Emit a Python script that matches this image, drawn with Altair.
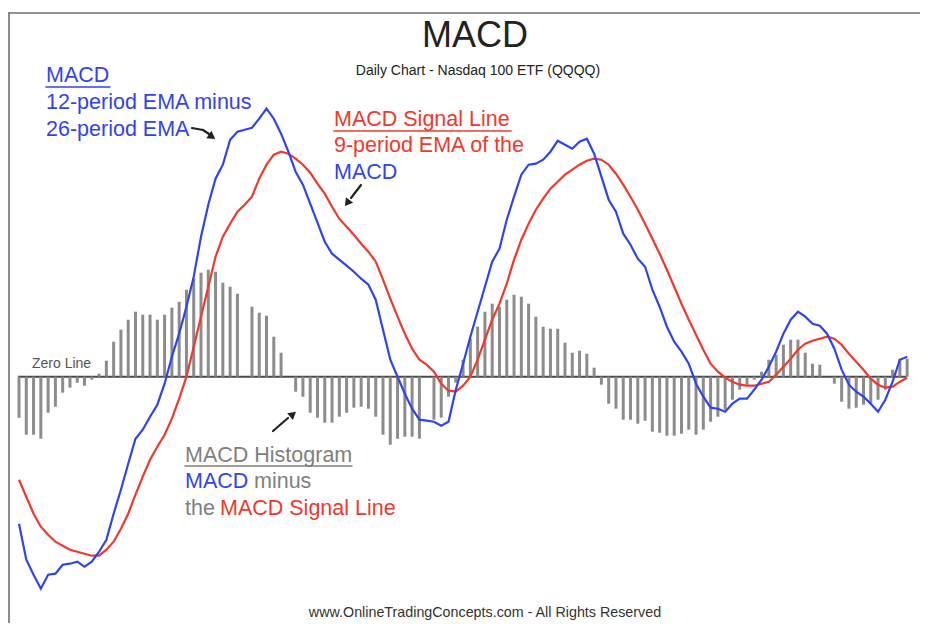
import altair as alt
import pandas as pd

# ---- data (units: MACD points) ----
macd = [-1.47, -1.83, -1.98, -2.12, -1.98, -1.97, -1.88, -1.87, -1.85, -1.90,
        -1.85, -1.75, -1.63, -1.37, -1.13, -0.87, -0.62, -0.53, -0.40, -0.28,
        -0.07, 0.20, 0.43, 0.70, 1.00, 1.40, 1.72, 1.98, 2.12, 2.37,
        2.45, 2.47, 2.49, 2.58, 2.68, 2.58, 2.43, 2.25, 2.05, 1.92,
        1.73, 1.54, 1.35, 1.23, 1.17, 1.11, 1.05, 0.98, 0.92, 0.77,
        0.47, 0.17, 0.00, -0.17, -0.32, -0.43, -0.44, -0.45, -0.49, -0.45,
        -0.13, 0.13, 0.40, 0.65, 0.90, 1.15, 1.28, 1.57, 1.80, 2.02,
        2.12, 2.13, 2.17, 2.25, 2.36, 2.32, 2.28, 2.35, 2.38, 2.23,
        2.00, 1.77, 1.65, 1.43, 1.32, 1.18, 1.10, 0.87, 0.70, 0.50,
        0.35, 0.25, 0.13, -0.07, -0.20, -0.31, -0.32, -0.35, -0.27, -0.22,
        -0.22, -0.13, -0.03, 0.10, 0.25, 0.43, 0.57, 0.65, 0.60, 0.53,
        0.51, 0.43, 0.28, 0.07, -0.08, -0.15, -0.20, -0.27, -0.35, -0.23,
        -0.05, 0.17, 0.20]

signal = [-1.03, -1.20, -1.37, -1.50, -1.58, -1.65, -1.69, -1.73, -1.75, -1.77,
          -1.79, -1.79, -1.73, -1.65, -1.52, -1.37, -1.18, -1.00, -0.83, -0.70,
          -0.58, -0.42, -0.22, 0.00, 0.30, 0.60, 0.90, 1.20, 1.40, 1.53,
          1.65, 1.72, 1.80, 1.98, 2.12, 2.22, 2.25, 2.23, 2.18, 2.12,
          2.04, 1.93, 1.83, 1.70, 1.58, 1.50, 1.42, 1.33, 1.25, 1.15,
          0.97, 0.78, 0.60, 0.43, 0.28, 0.17, 0.12, 0.05, -0.07, -0.14,
          -0.15, -0.09, 0.00, 0.17, 0.37, 0.57, 0.73, 0.93, 1.17, 1.37,
          1.53, 1.67, 1.78, 1.88, 1.95, 2.02, 2.07, 2.12, 2.16, 2.18,
          2.17, 2.12, 2.03, 1.92, 1.80, 1.67, 1.53, 1.38, 1.23, 1.07,
          0.90, 0.73, 0.57, 0.42, 0.27, 0.13, 0.05, -0.01, -0.05, -0.08,
          -0.09, -0.09, -0.07, -0.05, 0.02, 0.10, 0.18, 0.27, 0.33, 0.36,
          0.38, 0.40, 0.38, 0.32, 0.23, 0.15, 0.07, -0.02, -0.08, -0.11,
          -0.10, -0.05, -0.01]

histogram = [-0.41, -0.58, -0.58, -0.62, -0.36, -0.30, -0.16, -0.11, -0.06, -0.09,
             -0.03, 0.03, 0.16, 0.35, 0.47, 0.57, 0.65, 0.62, 0.62, 0.57,
             0.62, 0.69, 0.75, 0.87, 0.98, 1.04, 1.07, 1.05, 0.94, 0.90,
             0.83, 0.00, 0.70, 0.64, 0.61, 0.40, 0.24, 0.00, -0.15, -0.20,
             -0.36, -0.41, -0.46, -0.46, -0.40, -0.36, -0.31, -0.30, -0.32, -0.40,
             -0.58, -0.68, -0.62, -0.60, -0.60, -0.62, 0.00, -0.43, -0.41, -0.20,
             -0.06, 0.17, 0.38, 0.50, 0.65, 0.73, 0.70, 0.77, 0.82, 0.80,
             0.73, 0.60, 0.50, 0.48, 0.48, 0.34, 0.24, 0.26, 0.23, 0.09,
             -0.08, -0.27, -0.32, -0.43, -0.43, -0.47, -0.44, -0.55, -0.56, -0.59,
             -0.59, -0.57, -0.53, -0.58, -0.53, -0.45, -0.40, -0.33, -0.23, -0.13,
             -0.08, -0.03, 0.05, 0.17, 0.22, 0.32, 0.37, 0.37, 0.24, 0.13,
             0.12, 0.00, -0.07, -0.25, -0.32, -0.31, -0.28, -0.27, -0.23, -0.13,
             0.07, 0.18, 0.18]

day = list(range(len(macd)))

df = pd.DataFrame({"day": day, "macd": macd, "signal": signal, "hist": histogram})
df["zero"] = 0.0
zl = pd.DataFrame({"x0": [-0.14], "x1": [121.9], "y": [0.0]})

FONT = "Liberation Sans"
BLUE = "#2f44f0"
RED = "#f2382c"
GRAY_TXT = "#808080"
ARROW = "#222222"

W, H = 912, 615
xs = alt.Scale(domain=[-1.511, 123.764], nice=False, zero=False)
ys = alt.Scale(domain=[-2.463, 3.687], nice=False, zero=False)

X = alt.X("day:Q", scale=xs, axis=None)

zero_line = alt.Chart(zl).mark_rule(color="#4a4a4a", strokeWidth=2).encode(
    x=alt.X("x0:Q", scale=xs, axis=None), x2="x1:Q",
    y=alt.Y("y:Q", scale=ys, axis=None)
)

bars = alt.Chart(df).mark_rule(color="#8c8c8c", strokeWidth=3).encode(
    x=X, y=alt.Y("hist:Q", scale=ys, axis=None), y2="zero:Q"
)

sig_line = alt.Chart(df).mark_line(color=RED, strokeWidth=2.2).encode(
    x=X, y=alt.Y("signal:Q", scale=ys, axis=None)
)
macd_line = alt.Chart(df).mark_line(color=BLUE, strokeWidth=2.2).encode(
    x=X, y=alt.Y("macd:Q", scale=ys, axis=None)
)

one = pd.DataFrame({"k": [0]})


def txt(s, px, py, size, color, align="left"):
    return alt.Chart(one).mark_text(
        text=s, font=FONT, fontSize=size, color=color, align=align, baseline="alphabetic"
    ).encode(x=alt.value(px - 8), y=alt.value(py - 8))


def seg(x1, y1, x2, y2, color, w):
    return alt.Chart(one).mark_rule(color=color, strokeWidth=w, strokeCap="round").encode(
        x=alt.value(x1 - 8), y=alt.value(y1 - 8), x2=alt.value(x2 - 8), y2=alt.value(y2 - 8)
    )


def head(px, py, ang, color=ARROW):
    return alt.Chart(one).mark_point(
        shape="triangle", filled=True, color=color, size=80, angle=ang, opacity=1
    ).encode(x=alt.value(px - 8), y=alt.value(py - 8))


FS = 21.5

layers = [
    zero_line, bars, sig_line, macd_line,
    # frame
    seg(9, 13, 930, 13, "#707070", 1.6),
    seg(9, 13, 9, 640, "#707070", 1.6),
    # titles
    txt("MACD", 475, 47, 36, "#222222", "center"),
    txt("Daily Chart - Nasdaq 100 ETF (QQQQ)", 478, 75, 14, "#222222", "center"),
    # left annotation
    txt("MACD", 46, 82, FS, BLUE),
    seg(46, 87, 110, 87, BLUE, 1.5),
    txt("12-period EMA minus", 46, 109, FS, BLUE),
    txt("26-period EMA", 46, 136, FS, BLUE),
    seg(192, 128, 203, 130, ARROW, 2.2),
    seg(203, 130, 209, 134, ARROW, 2.2),
    head(211, 136, 125),
    # signal annotation
    txt("MACD Signal Line", 334, 126, FS, RED),
    seg(334, 131, 511, 131, RED, 1.5),
    txt("9-period EMA of the", 334, 152, FS, RED),
    txt("MACD", 334, 179, FS, BLUE),
    seg(361, 185, 351, 198, ARROW, 2.2),
    head(348, 202, 217),
    # histogram annotation
    txt("MACD Histogram", 185, 462, FS, GRAY_TXT),
    seg(185, 466, 352, 466, GRAY_TXT, 1.5),
    txt("MACD", 185, 488, FS, BLUE),
    txt("minus", 254, 488, FS, GRAY_TXT),
    txt("the", 185, 515, FS, GRAY_TXT),
    txt("MACD Signal Line", 220, 515, FS, RED),
    seg(273, 431, 288, 418, ARROW, 2.2),
    head(292, 415, 50),
    # zero line label
    txt("Zero Line", 32, 368, 14, "#555555"),
    # footer
    txt("www.OnlineTradingConcepts.com - All Rights Reserved", 485, 617, 14.3, "#333333", "center"),
]

chart = alt.layer(*layers).properties(
    width=W, height=H, padding=0,
    autosize=alt.AutoSizeParams(type="none"),
).configure_view(stroke=None)

chart.save("out.html", embed_options={"renderer": "svg", "actions": False})
